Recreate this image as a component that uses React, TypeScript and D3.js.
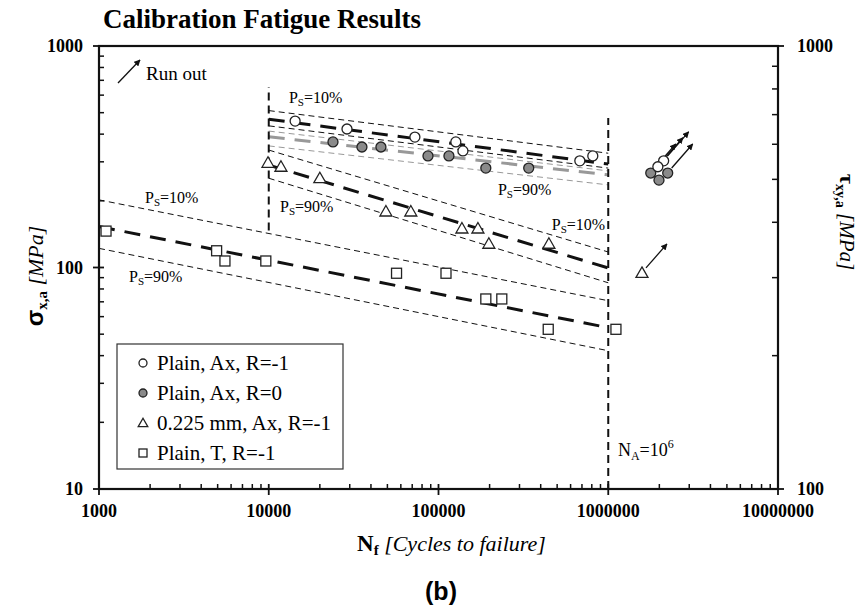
import React from 'react';
import * as d3 from 'd3';

const W = 861;
const H = 611;
const margin = { top: 46, right: 83, bottom: 122, left: 99 };

// test points: [cycles to failure, stress amplitude MPa]
const plainAxR1 = [[14300, 458], [28900, 422], [72600, 388], [126500, 369], [139300, 336], [680000, 303], [811000, 319]];
const plainAxR1Runout = [[2120000, 303], [1960000, 285]];
const plainAxR0 = [[23900, 369], [35400, 350], [45800, 350], [86700, 319], [115200, 319], [190000, 281], [340000, 281]];
const plainAxR0Runout = [[1780000, 267], [1990000, 248], [2240000, 267]];
const notchAx = [[9900, 297], [11800, 285], [20000, 253], [49000, 179], [68700, 179], [137400, 150], [170700, 150], [198000, 128], [447000, 128]];
const notchAxRunout = [[1580000, 94.5]];
const plainT = [[1100, 146], [4930, 119], [5520, 107], [9610, 107], [56600, 94.2], [110700, 94.2], [190000, 72.1], [236000, 72.1], [443000, 52.6], [1110000, 52.6]];

// fitted curves and scatter bands (PS=10% / 50% / 90%)
const r1Band10 = [[1e4, 511], [1e6, 328]];
const r1Mean = [[1e4, 467], [1e6, 293]];
const r1Band90 = [[1e4, 436], [1e6, 281]];
const r0Band10 = [[1e4, 413], [1e6, 273]];
const r0Mean = [[1e4, 389], [1e6, 262]];
const r0Band90 = [[1e4, 354], [1e6, 236]];
const notchBand10 = [[1e4, 339], [1e6, 117.5]];
const notchMean = [[1e4, 290], [1e6, 99.5]];
const notchBand90 = [[1e4, 253], [1e6, 85.3]];
const tBand10 = [[1e3, 202], [1e6, 70.8]];
const tMean = [[1e3, 153], [1e6, 53.5]];
const tBand90 = [[1e3, 122], [1e6, 42.1]];

// vertical limits
const kneeStart = [[1e4, 147], [1e4, 653]];
const kneeEnd = [[1e6, 10], [1e6, 473]];

const xTicks = [1e3, 1e4, 1e5, 1e6, 1e7];
const xTickLabels = ['1000', '10000', '100000', '1000000', '10000000'];
const yTicks = [10, 100, 1000];
const yTickLabels = ['10', '100', '1000'];
const yRTicks = [100, 1000];
const yRTickLabels = ['100', '1000'];

// PS labels: [cycles, stress, percent]
const psLabels = [
  [13150, 553, '10%'],
  [224000, 212, '90%'],
  [11650, 178, '90%'],
  [465000, 147, '10%'],
  [1866, 195, '10%'],
  [1503, 86, '90%'],
];

const legendItems = ['Plain, Ax, R=-1', 'Plain, Ax, R=0', '0.225 mm, Ax, R=-1', 'Plain, T, R=-1'];

const serif = '"Liberation Serif", "Times New Roman", serif';
const sans = '"Liberation Sans", Arial, sans-serif';

const Circle = ({ cx, cy, fill, r = 5 }) => (
  <circle cx={cx} cy={cy} r={r} fill={fill} stroke="#222" strokeWidth={1.3} />
);
const Tri = ({ cx, cy, s = 1 }) => (
  <path d={`M${cx},${cy - 6 * s} L${cx + 6 * s},${cy + 4.5 * s} L${cx - 6 * s},${cy + 4.5 * s} Z`} fill="#fff" stroke="#222" strokeWidth={1.3} />
);
const Sq = ({ cx, cy, s = 5 }) => (
  <rect x={cx - s} y={cy - s} width={2 * s} height={2 * s} fill="#fff" stroke="#222" strokeWidth={1.3} />
);

const App = () => {
  const x = d3.scaleLog().domain([1e3, 1e7]).range([margin.left, W - margin.right]);
  const y = d3.scaleLog().domain([10, 1000]).range([H - margin.bottom, margin.top]);
  const yR = d3.scaleLog().domain([100, 1000]).range([H - margin.bottom, margin.top]);
  const line = d3.line<number[]>().x(d => x(d[0])).y(d => y(d[1]));

  const x0 = margin.left, x1 = W - margin.right, y0 = margin.top, y1 = H - margin.bottom;
  const isPow = v => Math.abs(Math.log10(v) - Math.round(Math.log10(v))) < 1e-9;
  const xMinor = x.ticks().filter(v => !isPow(v));
  const yMinor = y.ticks().filter(v => !isPow(v));
  const yRMinor = yR.ticks().filter(v => !isPow(v));

  const band = (d, color = '#111') => (
    <path d={line(d)} fill="none" stroke={color} strokeWidth={1} strokeDasharray="6 4" />
  );
  const mean = (d, color = '#111') => (
    <path d={line(d)} fill="none" stroke={color} strokeWidth={3} strokeDasharray="16 10" />
  );
  const arrow = (d, i) => {
    const sx = x(d[0]) + 4, sy = y(d[1]) - 5;
    return <line key={'a' + i} x1={sx} y1={sy} x2={sx + 21} y2={sy - 24} stroke="#111" strokeWidth={1.3} markerEnd="url(#head)" />;
  };

  return (
    <svg width={W} height={H} style={{ position: 'absolute', left: 0, top: 0, background: '#fff' }}>
      <defs>
        <marker id="head" viewBox="0 0 10 10" refX="9" refY="5" markerWidth="5" markerHeight="5" orient="auto">
          <path d="M0,0 L10,5 L0,10 Z" fill="#111" />
        </marker>
      </defs>

      <text x={103} y={28} fontFamily={serif} fontWeight="bold" fontSize={27}>Calibration Fatigue Results</text>

      {/* curves */}
      {band(r1Band10)}
      {mean(r1Mean)}
      {band(r1Band90)}
      {band(r0Band10, '#999')}
      {mean(r0Mean, '#999')}
      {band(r0Band90, '#999')}
      {band(notchBand10)}
      {mean(notchMean)}
      {band(notchBand90)}
      {band(tBand10)}
      {mean(tMean)}
      {band(tBand90)}
      <path d={line(kneeStart)} stroke="#111" strokeWidth={2} strokeDasharray="8 5" />
      <path d={line(kneeEnd)} stroke="#111" strokeWidth={2} strokeDasharray="8 5" />

      {/* run-out arrows */}
      {[...plainAxR1Runout, plainAxR0Runout[2], plainAxR0Runout[0], ...notchAxRunout].map(arrow)}

      {/* points */}
      {plainT.map((d, i) => <Sq key={'s' + i} cx={x(d[0])} cy={y(d[1])} />)}
      {notchAx.concat(notchAxRunout).map((d, i) => <Tri key={'t' + i} cx={x(d[0])} cy={y(d[1])} />)}
      {plainAxR0.concat(plainAxR0Runout).map((d, i) => <Circle key={'g' + i} cx={x(d[0])} cy={y(d[1])} fill="#8a8a8a" />)}
      {plainAxR1.concat(plainAxR1Runout).map((d, i) => <Circle key={'c' + i} cx={x(d[0])} cy={y(d[1])} fill="#fff" />)}

      {/* PS labels */}
      {psLabels.map((d, i) => (
        <text key={'p' + i} x={x(d[0] as number)} y={y(d[1] as number)} fontFamily={serif} fontSize={16}>
          P<tspan fontSize={11} dy={3}>S</tspan><tspan dy={-3}>={d[2]}</tspan>
        </text>
      ))}
      <text x={x(1.14e6)} y={y(14.1)} fontFamily={serif} fontSize={18}>
        N<tspan fontSize={12} dy={4}>A</tspan><tspan dy={-4}>=10</tspan><tspan fontSize={12} dy={-8}>6</tspan>
      </text>

      {/* run out legend */}
      <line x1={118} y1={83} x2={140} y2={60} stroke="#111" strokeWidth={1.3} markerEnd="url(#head)" />
      <text x={146} y={80} fontFamily={serif} fontSize={19}>Run out</text>

      {/* legend */}
      <rect x={117} y={344} width={226} height={125} fill="#fff" stroke="#333" strokeWidth={1.2} />
      {legendItems.map((t, i) => {
        const cy = 363 + i * 30;
        return (
          <g key={'l' + i}>
            {i === 0 && <Circle cx={143} cy={cy} r={4} fill="#fff" />}
            {i === 1 && <Circle cx={143} cy={cy} r={4} fill="#8a8a8a" />}
            {i === 2 && <Tri cx={143} cy={cy} s={0.8} />}
            {i === 3 && <Sq cx={143} cy={cy} s={4} />}
            <text x={157} y={cy + 7} fontFamily={serif} fontSize={21}>{t}</text>
          </g>
        );
      })}

      {/* frame */}
      <rect x={x0} y={y0} width={x1 - x0} height={y1 - y0} fill="none" stroke="#111" strokeWidth={2.2} />

      {/* bottom axis */}
      {xMinor.map((v, i) => <line key={'xm' + i} x1={x(v)} x2={x(v)} y1={y1} y2={y1 - 5} stroke="#111" strokeWidth={1.5} />)}
      {xTicks.map((v, i) => (
        <g key={'xt' + i}>
          <line x1={x(v)} x2={x(v)} y1={y1 - 5} y2={y1 + 6} stroke="#111" strokeWidth={1.8} />
          <text x={x(v)} y={517} textAnchor="middle" fontFamily={serif} fontWeight="bold" fontSize={18}>{xTickLabels[i]}</text>
        </g>
      ))}

      {/* left axis */}
      {yMinor.map((v, i) => <line key={'ym' + i} x1={x0} x2={x0 + 5} y1={y(v)} y2={y(v)} stroke="#111" strokeWidth={1.5} />)}
      {yTicks.map((v, i) => (
        <g key={'yt' + i}>
          <line x1={x0 - 6} x2={x0 + 5} y1={y(v)} y2={y(v)} stroke="#111" strokeWidth={1.8} />
          <text x={83} y={y(v) + 6} textAnchor="end" fontFamily={serif} fontWeight="bold" fontSize={18}>{yTickLabels[i]}</text>
        </g>
      ))}

      {/* right axis */}
      {yRMinor.map((v, i) => <line key={'rm' + i} x1={x1} x2={x1 - 6} y1={yR(v)} y2={yR(v)} stroke="#111" strokeWidth={1.5} />)}
      {yRTicks.map((v, i) => (
        <g key={'rt' + i}>
          <line x1={x1 - 6} x2={x1 + 6} y1={yR(v)} y2={yR(v)} stroke="#111" strokeWidth={1.8} />
          <text x={797} y={yR(v) + 6} fontFamily={serif} fontWeight="bold" fontSize={18}>{yRTickLabels[i]}</text>
        </g>
      ))}

      {/* axis titles */}
      <text x={357} y={551} fontFamily={serif} fontSize={22}>
        <tspan fontWeight="bold" fontSize={23}>N</tspan><tspan fontWeight="bold" fontSize={15} dy={4}>f</tspan>
        <tspan dy={-4} fontStyle="italic"> [Cycles to failure]</tspan>
      </text>
      <text transform="translate(43,276) rotate(-90)" textAnchor="middle" fontFamily={serif} fontSize={22}>
        <tspan fontFamily={sans} fontWeight="bold" fontSize={24}>σ</tspan><tspan fontWeight="bold" fontSize={15} dy={4}>x,a</tspan>
        <tspan dy={-4} fontStyle="italic">  [MPa]</tspan>
      </text>
      <text transform="translate(840,222) rotate(90)" textAnchor="middle" fontFamily={serif} fontSize={21}>
        <tspan fontWeight="bold" fontSize={22}>τ</tspan><tspan fontWeight="bold" fontSize={14} dy={4}>xy,a</tspan>
        <tspan dy={-4} fontStyle="italic">  [MPa]</tspan>
      </text>

      <text x={441} y={600} textAnchor="middle" fontFamily={sans} fontWeight="bold" fontSize={25}>(b)</text>
    </svg>
  );
};

export default App;
